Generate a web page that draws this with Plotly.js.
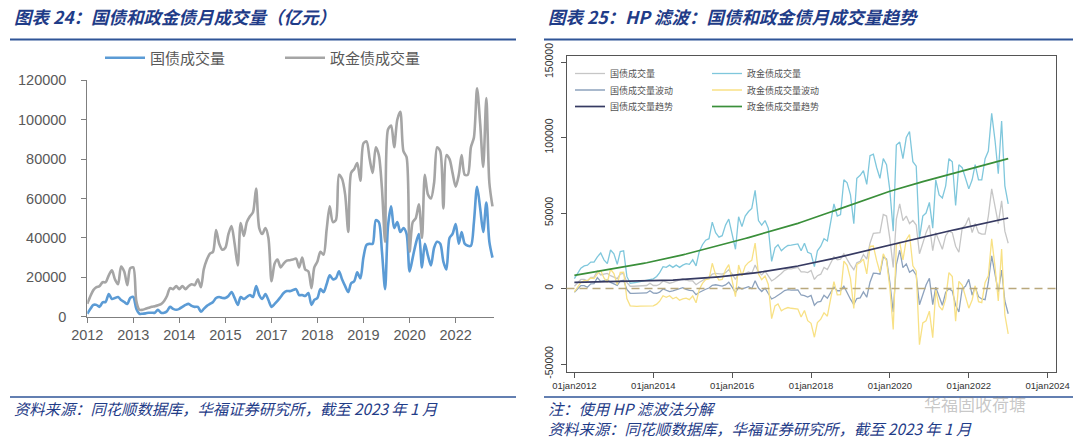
<!DOCTYPE html>
<html><head><meta charset="utf-8">
<script src="https://cdn.plot.ly/plotly-3.0.1.min.js"></script>
<style>html,body{margin:0;padding:0;background:#fff;} #chart{width:1080px;height:439px;}</style>
</head><body><div id="chart"></div>
<script>
// ---------- data (亿元), monthly Jan 2012 - Jan 2023 ----------
const startYear = 2012;
const monthCount = 133;
const months = [];
for (let i = 0; i < monthCount; i++) {
  const y = startYear + Math.floor(i / 12), m = i % 12 + 1;
  months.push(y + '-' + String(m).padStart(2, '0') + '-01');
}
const govVolume = [
  1500, 4000, 6000, 6000, 5000, 7300, 7500, 11500, 9000, 9500, 10000, 8500,
  7500, 6500, 9500, 10000, 4000, 1500, 1500, 1700, 2000, 2000, 2000, 3500,
  2000, 2000, 2800, 5000, 4000, 3500, 4000, 5000, 6000, 6500, 5500, 5000,
  5000, 2500, 4000, 5500, 6500, 7500, 9500, 10000, 9500, 9500, 10500, 12500,
  9500, 6000, 10000, 9000, 10000, 11000, 10000, 15500, 11000, 9000, 11500, 8500,
  5000, 6500, 8000, 10000, 12000, 13000, 13000, 13500, 14000, 11000, 11000, 10500,
  12000, 6000, 8500, 9500, 14000, 12500, 16500, 21000, 19000, 19500, 23000, 19000,
  15500, 12500, 17000, 18000, 22500, 19500, 30000, 36500, 37000, 37000, 49000, 48000,
  33000, 14000, 46000, 56000, 45000, 48000, 43000, 45000, 42000, 23000, 30000, 37000,
  42000, 25000, 37000, 31000, 26000, 35000, 38000, 37000, 28000, 24000, 40000, 42000,
  47000, 37000, 43000, 37000, 36000, 36000, 48000, 66000, 55000, 43000, 58000, 38000,
  30000
];
const policyVolume = [
  6500, 10500, 13500, 15000, 15500, 17500, 17500, 21000, 23500, 19000, 16500, 25500,
  23000, 16000, 24500, 25000, 8000, 3500, 3500, 4000, 4500, 5000, 5300, 5800,
  6400, 8000, 10500, 14500, 14000, 15500, 14000, 15500, 14000, 15500, 16500, 16000,
  19000, 15000, 24000, 29000, 32000, 33000, 44000, 37000, 34000, 35000, 42000, 46000,
  37000, 26000, 47500, 41000, 48000, 51000, 53000, 65000, 45000, 42000, 45000, 40000,
  18000, 27000, 29000, 25000, 27000, 28500, 28700, 29000, 29500, 25000, 30000, 24000,
  23000, 14500, 25000, 28000, 33000, 31500, 44000, 56000, 48000, 49000, 72000, 70000,
  62000, 43000, 73000, 75000, 78000, 69000, 88000, 89000, 80000, 73000, 86000, 82000,
  65000, 38000, 95000, 97000, 86000, 100000, 104000, 84000, 81000, 33000, 48000, 50000,
  57000, 40000, 72000, 62000, 60000, 68000, 86000, 84000, 55000, 82000, 80000, 73000,
  66000, 72000, 82000, 72000, 72000, 86000, 91000, 116000, 98000, 76000, 111000, 68000,
  56000
];
const seriesNames = ['国债成交量', '政金债成交量'];
const hpNames = ['国债成交量', '政金债成交量', '国债成交量波动', '政金债成交量波动', '国债成交量趋势', '政金债成交量趋势'];
const leftTickDates = ['2012-01-01','2013-04-01','2014-07-01','2015-10-01','2017-01-01','2018-04-01','2019-07-01','2020-10-01','2022-01-01'];
const leftTickLabels = ['2012','2013','2014','2015','2017','2018','2019','2020','2022'];
const leftYTicks = [0, 20000, 40000, 60000, 80000, 100000, 120000];
const rightTickDates = ['2012-01-01','2014-01-01','2016-01-01','2018-01-01','2020-01-01','2022-01-01','2024-01-01'];
const rightTickLabels = ['01jan2012','01jan2014','01jan2016','01jan2018','01jan2020','01jan2022','01jan2024'];
const rightYTicks = [-50000, 0, 50000, 100000, 150000];
const hpLambda = 129600;

// ---------- Hodrick-Prescott decomposition (method named in the chart note) ----------
function hpTrend(y, lambda) {
  const n = y.length;
  const A = Array.from({length: n}, () => new Float64Array(n));
  for (let i = 0; i < n; i++) A[i][i] = 1;
  const d = [1, -2, 1];
  for (let k = 0; k < n - 2; k++)
    for (let a = 0; a < 3; a++)
      for (let b = 0; b < 3; b++) A[k + a][k + b] += lambda * d[a] * d[b];
  const x = y.slice();
  for (let i = 0; i < n; i++) {
    for (let r = i + 1; r < Math.min(n, i + 3); r++) {
      const f = A[r][i] / A[i][i];
      if (!f) continue;
      for (let c = i; c < Math.min(n, i + 3); c++) A[r][c] -= f * A[i][c];
      x[r] -= f * x[i];
    }
  }
  for (let i = n - 1; i >= 0; i--) {
    let s = x[i];
    for (let c = i + 1; c < Math.min(n, i + 3); c++) s -= A[i][c] * x[c];
    x[i] = s / A[i][i];
  }
  return x;
}
const govTrend = hpTrend(govVolume, hpLambda);
const policyTrend = hpTrend(policyVolume, hpLambda);
const govCycle = govVolume.map((v, i) => v - govTrend[i]);
const policyCycle = policyVolume.map((v, i) => v - policyTrend[i]);

// ---------- helpers ----------
const W = 1080, H = 439;
const px = v => v / W, py = v => 1 - v / H;
const cjk = '"Noto Sans CJK SC", "Noto Sans", sans-serif';
const latin = '"Liberation Sans", Arial, sans-serif';

const traces = [
  {x: months, y: govVolume, name: seriesNames[0], type: 'scatter', mode: 'lines',
   line: {color: '#5B9BD5', width: 2.6, shape: 'spline', smoothing: 0.8}, xaxis: 'x', yaxis: 'y', legend: 'legend'},
  {x: months, y: policyVolume, name: seriesNames[1], type: 'scatter', mode: 'lines',
   line: {color: '#A5A5A5', width: 2.6, shape: 'spline', smoothing: 0.8}, xaxis: 'x', yaxis: 'y', legend: 'legend'},
  {x: months, y: govVolume, name: hpNames[0], mode: 'lines', line: {color: '#c6c6c6', width: 1.3}, xaxis: 'x2', yaxis: 'y2', legend: 'legend2'},
  {x: months, y: policyVolume, name: hpNames[1], mode: 'lines', line: {color: '#7fc7dc', width: 1.3}, xaxis: 'x2', yaxis: 'y2', legend: 'legend2'},
  {x: months, y: govCycle, name: hpNames[2], mode: 'lines', line: {color: '#8da2bd', width: 1.3}, xaxis: 'x2', yaxis: 'y2', legend: 'legend3'},
  {x: months, y: policyCycle, name: hpNames[3], mode: 'lines', line: {color: '#f8e185', width: 1.3}, xaxis: 'x2', yaxis: 'y2', legend: 'legend3'},
  {x: months, y: govTrend, name: hpNames[4], mode: 'lines', line: {color: '#363a62', width: 1.7}, xaxis: 'x2', yaxis: 'y2', legend: 'legend4'},
  {x: months, y: policyTrend, name: hpNames[5], mode: 'lines', line: {color: '#3a8f3a', width: 1.7}, xaxis: 'x2', yaxis: 'y2', legend: 'legend4'}
];

const blue = '#1f3c88';
const rowLegend = yPix => ({
  orientation: 'h', x: px(570), y: py(yPix), xanchor: 'left', yanchor: 'middle',
  font: {family: cjk, size: 9, color: '#555'}, bgcolor: 'rgba(0,0,0,0)',
  itemwidth: 30, entrywidth: 92, entrywidthmode: 'pixels'
});
const layout = {
  width: W, height: H,
  margin: {l: 0, r: 0, t: 0, b: 0},
  paper_bgcolor: '#fff', plot_bgcolor: '#fff',
  showlegend: true,
  xaxis: {
    type: 'date', domain: [px(87.3), px(494)], anchor: 'y',
    range: ['2012-01-01', '2023-01-16'],
    tickvals: leftTickDates, ticktext: leftTickLabels,
    showline: true, linecolor: '#7f7f7f', linewidth: 1,
    ticks: 'outside', ticklen: 5, tickcolor: '#7f7f7f',
    showgrid: false, zeroline: false,
    tickfont: {family: latin, size: 14.5, color: '#595959'}
  },
  yaxis: {
    domain: [py(316.7), py(80.3)], anchor: 'x',
    range: [0, 120000], tickvals: leftYTicks, tickformat: 'd',
    showline: true, linecolor: '#7f7f7f', linewidth: 1,
    ticks: 'outside', ticklen: 5, tickcolor: '#7f7f7f', ticklabelstandoff: 12,
    showgrid: false, zeroline: false,
    tickfont: {family: latin, size: 14.5, color: '#595959'}
  },
  xaxis2: {
    type: 'date', domain: [px(566.5), px(1055.5)], anchor: 'y2',
    range: ['2011-10-20', '2024-03-14'],
    tickvals: rightTickDates, ticktext: rightTickLabels,
    showline: true, mirror: true, linecolor: '#555', linewidth: 1,
    ticks: 'outside', ticklen: 5, tickcolor: '#555',
    showgrid: false, zeroline: false,
    tickfont: {family: latin, size: 9.5, color: '#333'}
  },
  yaxis2: {
    domain: [py(372), py(56)], anchor: 'x2',
    range: [-55300, 154000], tickvals: rightYTicks, ticktext: rightYTicks.map(String),
    tickangle: -90, ticklabelstandoff: 3,
    showline: true, mirror: true, linecolor: '#555', linewidth: 1,
    ticks: 'outside', ticklen: 5, tickcolor: '#555',
    showgrid: false, zeroline: false,
    tickfont: {family: latin, size: 10.5, color: '#333'}
  },
  legend: {
    orientation: 'h', x: px(100), y: py(58), xanchor: 'left', yanchor: 'middle',
    font: {family: cjk, size: 15, color: '#595959'}, bgcolor: 'rgba(0,0,0,0)',
    entrywidth: 125, entrywidthmode: 'pixels', itemwidth: 40
  },
  legend2: rowLegend(73.5),
  legend3: rowLegend(90),
  legend4: rowLegend(106.5),
  shapes: [
    {type: 'line', xref: 'paper', yref: 'paper', x0: px(10), x1: px(516), y0: py(39.5), y1: py(39.5), line: {color: '#2f5597', width: 2}},
    {type: 'line', xref: 'paper', yref: 'paper', x0: px(544), x1: px(1073), y0: py(39.5), y1: py(39.5), line: {color: '#2f5597', width: 2}},
    {type: 'line', xref: 'paper', yref: 'paper', x0: px(10), x1: px(516), y0: py(397), y1: py(397), line: {color: '#2f5597', width: 1.5}},
    {type: 'line', xref: 'paper', yref: 'paper', x0: px(544), x1: px(1073), y0: py(397), y1: py(397), line: {color: '#2f5597', width: 1.5}},
    {type: 'line', xref: 'x2 domain', yref: 'y2', x0: 0, x1: 1, y0: 0, y1: 0, line: {color: '#b9a87c', width: 1.6, dash: '8px,5px'}}
  ],
  annotations: [
    {text: '图表 24：国债和政金债月成交量（亿元）', xref: 'paper', yref: 'paper', x: px(12), y: py(17), xanchor: 'left', yanchor: 'middle', showarrow: false,
     font: {family: cjk, size: 17.5, color: blue, weight: 700, style: 'italic'}},
    {text: '图表 25：HP 滤波：国债和政金债月成交量趋势', xref: 'paper', yref: 'paper', x: px(546), y: py(17), xanchor: 'left', yanchor: 'middle', showarrow: false,
     font: {family: cjk, size: 17.5, color: blue, weight: 700, style: 'italic'}},
    {text: '资料来源：同花顺数据库，华福证券研究所，截至 2023 年 1 月', xref: 'paper', yref: 'paper', x: px(12), y: py(408), xanchor: 'left', yanchor: 'middle', showarrow: false,
     font: {family: cjk, size: 15.3, color: blue, style: 'italic'}},
    {text: '注：使用 HP 滤波法分解', xref: 'paper', yref: 'paper', x: px(546), y: py(408), xanchor: 'left', yanchor: 'middle', showarrow: false,
     font: {family: cjk, size: 15.3, color: blue, style: 'italic'}},
    {text: '资料来源：同花顺数据库，华福证券研究所，截至 2023 年 1 月', xref: 'paper', yref: 'paper', x: px(546), y: py(428), xanchor: 'left', yanchor: 'middle', showarrow: false,
     font: {family: cjk, size: 15.3, color: blue, style: 'italic'}},
    {text: '华福固收荷塘', xref: 'paper', yref: 'paper', x: px(975), y: py(403.5), xanchor: 'center', yanchor: 'middle', showarrow: false,
     font: {family: cjk, size: 17, color: 'rgba(120,120,120,0.42)'}}
  ]
};

Plotly.newPlot('chart', traces, layout, {displayModeBar: false, staticPlot: true});
</script>
</body></html>
